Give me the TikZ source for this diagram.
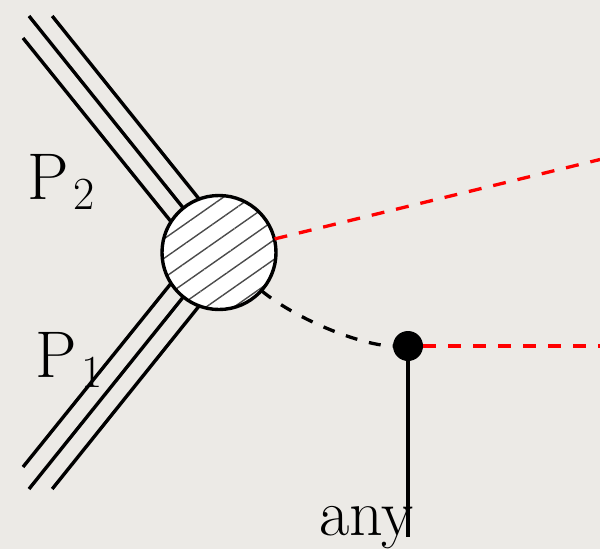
\documentclass[tikz,border=0pt]{standalone}
\usetikzlibrary{patterns.meta}
\definecolor{paper}{RGB}{236,234,230}
\definecolor{hatch}{RGB}{75,75,75}
\tikzset{
  leg/.style={line width=3.4pt, black},
  reddash/.style={line width=3.3pt, red, dash pattern=on 13pt off 12pt},
  blackdash/.style={line width=3.3pt, black, dash pattern=on 12pt off 12pt},
  lbl/.style={inner sep=0pt, font=\fontsize{66}{80}\selectfont},
}
\newcommand{\mysub}[1]{\kern5pt\raisebox{-10pt}{\fontsize{46}{50}\selectfont #1}}
\begin{document}
\begin{tikzpicture}[x=1pt,y=-1pt]
  \fill[paper] (0,0) rectangle (600,549);
  \useasboundingbox (0,0) rectangle (600,549);
  % centre of the blob
  \coordinate (o) at (219,252.5);
  % offsets of the three parallel lines
  \coordinate (ua) at (205,263.8);
  \coordinate (ub) at (219,252.5);
  \coordinate (uc) at (233,241.2);
  \coordinate (la) at (205,241.2);
  \coordinate (lb) at (219,252.5);
  \coordinate (lc) at (233,263.8);
  % free ends
  \coordinate (ua0) at (23,38);
  \coordinate (ub0) at (29,16);
  \coordinate (uc0) at (52.2,16);
  \coordinate (la0) at (23,467);
  \coordinate (lb0) at (29,489);
  \coordinate (lc0) at (52.2,489);
  \draw[leg] (ua0) -- (ua);
  \draw[leg] (ub0) -- (ub);
  \draw[leg] (uc0) -- (uc);
  \draw[leg] (la0) -- (la);
  \draw[leg] (lb0) -- (lb);
  \draw[leg] (lc0) -- (lc);
  % hatched blob
  \node[circle, inner sep=0pt, minimum size=114pt, fill=white,
        postaction={pattern={Lines[angle=35,distance=16pt,line width=1.4pt]}, pattern color=hatch},
        postaction={draw, line width=3.4pt}] (blob) at (o) {};
  % vertex dot
  \node[circle, inner sep=0pt, minimum size=30pt, fill=black] (dot) at (408,346) {};
  \coordinate (r1) at (600,159.5);
  \coordinate (r2) at (600,346);
  \coordinate (anyend) at (408,537);
  \draw[reddash] (blob) -- (r1);
  \draw[reddash] (dot) -- (r2);
  \draw[blackdash] (blob.-42) .. controls (300,322) and (365,346) .. (dot);
  % labels
  \node[lbl, anchor=base west] (p2) at (27,199) {P\mysub{2}};
  \node[lbl, anchor=base west] (p1) at (35,377) {P\mysub{1}};
  \node[lbl, anchor=base west] (any) at (319,535) {any};
  \draw[leg] (dot) -- (anyend);
\end{tikzpicture}
\end{document}
